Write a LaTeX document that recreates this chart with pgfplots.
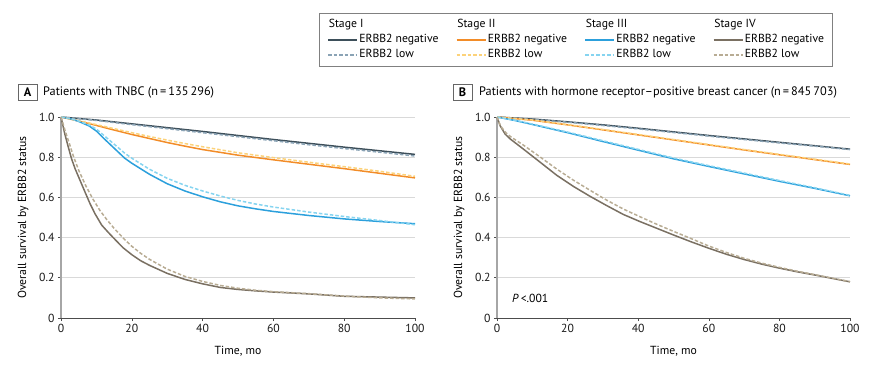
\documentclass[border=0pt]{standalone}
\usepackage{fontspec}
\setmainfont{PT Sans}
\usepackage{pgfplots}
\pgfplotsset{compat=1.18}
\definecolor{sIn}{HTML}{3D4F5A}
\definecolor{sIl}{HTML}{8AA3B5}
\definecolor{sIIn}{HTML}{F28C28}
\definecolor{sIIl}{HTML}{FCD27A}
\definecolor{sIIIn}{HTML}{2CA0DC}
\definecolor{sIIIl}{HTML}{86D4F0}
\definecolor{sIVn}{HTML}{7A7062}
\definecolor{sIVl}{HTML}{B8AC94}
\newcommand{\fs}{\fontsize{11.7bp}{13bp}\selectfont}
\newcommand{\ft}{\fontsize{12.3bp}{14bp}\selectfont}
\pgfplotsset{
  kmaxis/.style={
    scale only axis, width=354bp, height=201bp,
    xmin=0, xmax=100, ymin=0, ymax=1,
    axis x line*=bottom, axis y line*=left,
    x axis line style={-, draw=black!70, line width=0.8bp},
    y axis line style={-, draw=black!35, line width=1.8bp},
    xtick={0,20,40,60,80,100}, xticklabels={0,20,40,60,80,100},
    ytick={0,0.2,0.4,0.6,0.8,1}, yticklabels={0,0.2,0.4,0.6,0.8,1.0},
    tick align=outside, major tick length=3bp,
    tick style={draw=black!70, line width=0.6bp},
    ymajorgrids, grid style={draw=black!15, line width=0.8bp},
    xticklabel style={font=\fs, text=black!90},
    yticklabel style={font=\fs, text=black!90},
    xlabel={Time, mo},
    every axis x label/.style={at={(axis description cs:0.5,-0.164)}, anchor=center, font=\fs},
    ylabel={Overall survival by ERBB2 status},
    every axis y label/.style={at={(axis description cs:-0.107,0.5)}, rotate=90, anchor=center, font=\fs},
    clip=false,
  },
  neg/.style={line width=1.5bp},
  low/.style={line width=1.5bp, dash pattern=on 3.5bp off 2bp},
}
\begin{document}
\begin{tikzpicture}
\useasboundingbox (0,0) rectangle (891bp,371bp);
\begin{axis}[kmaxis, at={(61bp,53bp)}, anchor=south west,
  legend columns=4,
  legend cell align=left,
  legend image code/.code={\draw[#1] (0bp,0bp) -- (29bp,0bp);},
  legend style={at={(axis description cs:0.7288,1.5174)}, anchor=north west,
    draw=black!50, line width=0.6bp, inner xsep=8bp, inner ysep=4bp,
    column sep=0bp, row sep=0bp, font=\fs,
    nodes={inner xsep=1.5bp, inner ysep=2bp, text height=8.5bp, text depth=2.5bp}},
]
\addlegendimage{empty legend}\addlegendentry{\makebox[95bp][l]{\hspace*{-30.5bp}Stage I}}
\addlegendimage{empty legend}\addlegendentry{\makebox[95bp][l]{\hspace*{-30.5bp}Stage II}}
\addlegendimage{empty legend}\addlegendentry{\makebox[95bp][l]{\hspace*{-30.5bp}Stage III}}
\addlegendimage{empty legend}\addlegendentry{\makebox[78bp][l]{\hspace*{-30.5bp}Stage IV}}
\addlegendimage{line width=1.5bp, color=sIn}\addlegendentry{\makebox[95bp][l]{ERBB2 negative}}
\addlegendimage{line width=1.5bp, color=sIIn}\addlegendentry{\makebox[95bp][l]{ERBB2 negative}}
\addlegendimage{line width=1.5bp, color=sIIIn}\addlegendentry{\makebox[95bp][l]{ERBB2 negative}}
\addlegendimage{line width=1.5bp, color=sIVn}\addlegendentry{\makebox[78bp][l]{ERBB2 negative}}
\addlegendimage{line width=1.5bp, color=sIl, dash pattern=on 3.5bp off 2bp}\addlegendentry{\makebox[95bp][l]{ERBB2 low}}
\addlegendimage{line width=1.5bp, color=sIIl, dash pattern=on 3.5bp off 2bp}\addlegendentry{\makebox[95bp][l]{ERBB2 low}}
\addlegendimage{line width=1.5bp, color=sIIIl, dash pattern=on 3.5bp off 2bp}\addlegendentry{\makebox[95bp][l]{ERBB2 low}}
\addlegendimage{line width=1.5bp, color=sIVl, dash pattern=on 3.5bp off 2bp}\addlegendentry{\makebox[78bp][l]{ERBB2 low}}
% negatives
\addplot[neg, sIn, forget plot] coordinates {(0,1)(10,0.985)(20,0.966)(30,0.947)(40,0.928)(50,0.908)(60,0.888)(70,0.869)(80,0.85)(90,0.832)(100,0.814)};
\addplot[neg, sIIn, forget plot] coordinates {(0,1)(5,0.98)(10,0.958)(15,0.935)(20,0.913)(25,0.893)(30,0.873)(35,0.855)(40,0.838)(50,0.81)(60,0.787)(70,0.765)(80,0.743)(90,0.72)(100,0.697)};
\addplot[neg, sIIIn, forget plot] coordinates {(0,1)(3,0.99)(5,0.978)(8,0.955)(10,0.93)(12,0.895)(15,0.845)(18,0.795)(20,0.77)(25,0.715)(30,0.668)(35,0.632)(40,0.603)(45,0.578)(50,0.558)(55,0.543)(60,0.53)(70,0.51)(80,0.493)(90,0.48)(100,0.469)};
\addplot[neg, sIVn, forget plot] coordinates {(0,1)(1.1,0.914)(2.1,0.848)(3,0.791)(4,0.742)(5.4,0.684)(6.8,0.626)(8.2,0.569)(9.6,0.519)(11.5,0.462)(13.4,0.425)(15.3,0.39)(17.5,0.35)(20,0.315)(22.5,0.285)(25,0.262)(30,0.222)(35,0.192)(40,0.17)(45,0.152)(50,0.142)(55,0.135)(60,0.129)(70,0.12)(80,0.108)(90,0.104)(100,0.1)};
% lows
\addplot[low, sIl, forget plot] coordinates {(0,1)(10,0.983)(20,0.962)(30,0.942)(40,0.922)(50,0.902)(60,0.882)(70,0.862)(80,0.843)(90,0.825)(100,0.806)};
\addplot[low, sIIl, forget plot] coordinates {(0,1)(5,0.982)(10,0.962)(15,0.942)(20,0.922)(25,0.903)(30,0.885)(35,0.868)(40,0.852)(50,0.822)(60,0.798)(70,0.775)(80,0.753)(90,0.73)(100,0.705)};
\addplot[low, sIIIl, forget plot] coordinates {(0,1)(3,0.99)(5,0.98)(8,0.96)(10,0.94)(12,0.91)(15,0.865)(18,0.82)(20,0.795)(25,0.74)(30,0.695)(35,0.66)(40,0.632)(45,0.607)(50,0.585)(55,0.567)(60,0.552)(70,0.527)(80,0.505)(90,0.485)(100,0.464)};
\addplot[low, sIVl, forget plot] coordinates {(0,1)(1.2,0.93)(2.5,0.86)(3.5,0.805)(5,0.735)(7,0.658)(9,0.592)(11,0.535)(13,0.488)(15,0.446)(18,0.39)(20,0.357)(22.5,0.322)(25,0.292)(30,0.243)(35,0.207)(40,0.182)(45,0.162)(50,0.148)(55,0.138)(60,0.131)(70,0.121)(80,0.109)(90,0.1)(100,0.095)};
\node[draw=black!60, line width=0.6bp, minimum width=19bp, minimum height=16bp, inner sep=0pt, font=\ft\bfseries] at (axis description cs:-0.0946,1.1244) {A};
\node[anchor=west, inner sep=0pt, font=\ft] at (axis description cs:-0.0508,1.1244) {Patients with TNBC (n\,=\,135\,296)};
\end{axis}
\begin{axis}[kmaxis, at={(497bp,53bp)}, anchor=south west, width=353bp]
\addplot[neg, sIn] coordinates {(0,1)(10,0.99)(20,0.976)(30,0.961)(40,0.944)(50,0.926)(60,0.908)(70,0.891)(80,0.874)(90,0.857)(100,0.84)};
\addplot[neg, sIIn] coordinates {(0,1)(10,0.984)(20,0.961)(30,0.936)(40,0.911)(50,0.886)(60,0.861)(70,0.836)(80,0.812)(90,0.788)(100,0.764)};
\addplot[neg, sIIIn] coordinates {(0,1)(5,0.983)(10,0.963)(20,0.922)(30,0.878)(40,0.835)(50,0.792)(60,0.754)(70,0.717)(80,0.68)(90,0.645)(100,0.608)};
\addplot[neg, sIVn] coordinates {(0,1)(0.9,0.956)(2.3,0.915)(3.8,0.89)(7.5,0.84)(12.3,0.774)(17,0.709)(21.7,0.654)(26.4,0.605)(31,0.56)(35.8,0.515)(40.6,0.479)(45.3,0.446)(50,0.413)(55,0.379)(60,0.347)(65,0.317)(70,0.291)(75,0.268)(80,0.248)(85,0.23)(90,0.214)(95,0.197)(100,0.18)};
\addplot[low, sIl] coordinates {(0,1)(10,0.988)(20,0.974)(30,0.958)(40,0.941)(50,0.923)(60,0.905)(70,0.888)(80,0.871)(90,0.855)(100,0.838)};
\addplot[low, sIIl] coordinates {(0,1)(10,0.985)(20,0.962)(30,0.938)(40,0.913)(50,0.888)(60,0.863)(70,0.838)(80,0.814)(90,0.79)(100,0.766)};
\addplot[low, sIIIl] coordinates {(0,1)(5,0.984)(10,0.965)(20,0.925)(30,0.882)(40,0.839)(50,0.796)(60,0.758)(70,0.721)(80,0.684)(90,0.648)(100,0.61)};
\addplot[low, sIVl] coordinates {(0,1)(1,0.955)(2.5,0.922)(4,0.9)(7.5,0.86)(12.3,0.80)(17,0.74)(21.7,0.685)(26.4,0.635)(31,0.587)(35.8,0.542)(40.6,0.503)(45.3,0.466)(50,0.431)(55,0.395)(60,0.358)(65,0.326)(70,0.297)(75,0.273)(80,0.252)(85,0.233)(90,0.216)(95,0.198)(100,0.181)};
\node[draw=black!60, line width=0.6bp, minimum width=19bp, minimum height=16bp, inner sep=0pt, font=\ft\bfseries] at (axis description cs:-0.0977,1.1244) {B};
\node[anchor=west, inner sep=0pt, font=\ft] at (axis description cs:-0.051,1.1244) {Patients with hormone receptor--positive breast cancer (n\,=\,845\,703)};
\node[anchor=west, inner sep=0pt, font=\fs] at (axis description cs:0.0425,0.0995) {\textit{P}\,<.001};
\end{axis}
\end{tikzpicture}
\end{document}
